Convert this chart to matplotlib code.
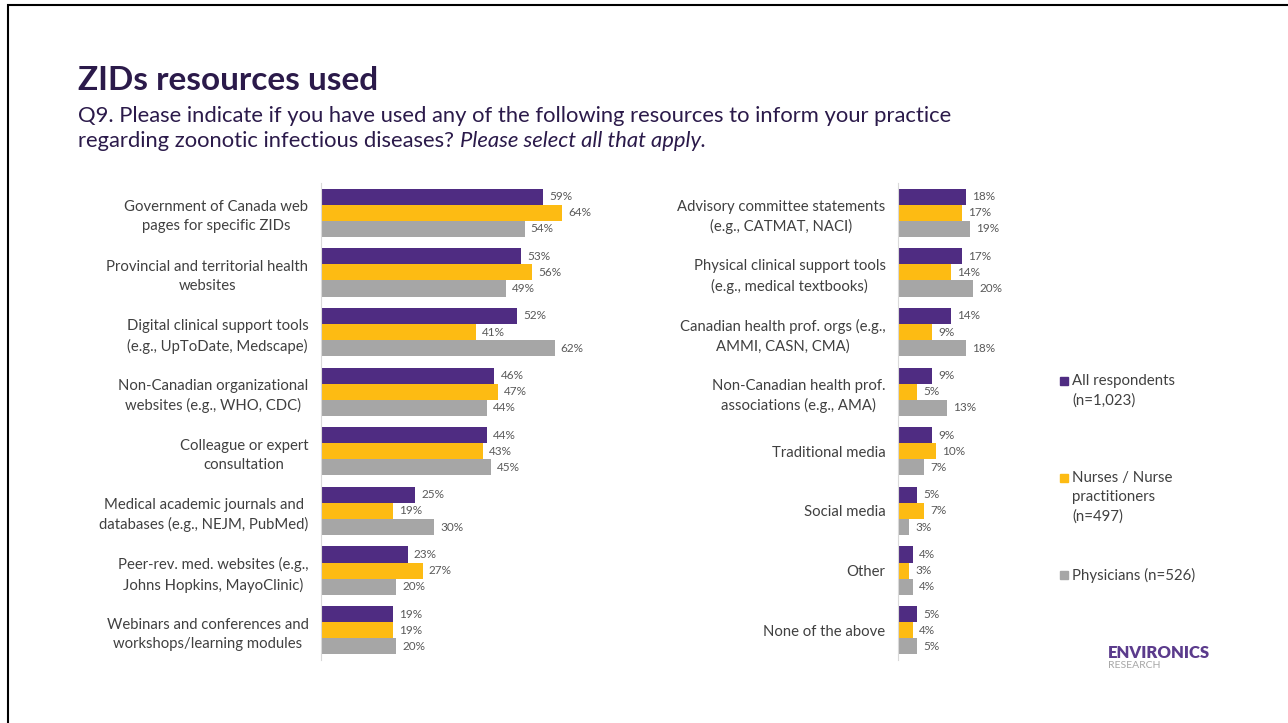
import matplotlib
matplotlib.use("Agg")
import matplotlib.pyplot as plt
import numpy as np
from matplotlib.patches import Rectangle

plt.rcParams['font.family'] = ['Lato', 'DejaVu Sans']

series_names = ["All respondents\n(n=1,023)",
                "Nurses / Nurse\npractitioners\n(n=497)",
                "Physicians (n=526)"]
colors = ["#4F2C82", "#FDBB13", "#A6A6A6"]

left_cats = ["Government of Canada web\npages for specific ZIDs",
             "Provincial and territorial health\nwebsites",
             "Digital clinical support tools\n(e.g., UpToDate, Medscape)",
             "Non-Canadian organizational\nwebsites (e.g., WHO, CDC)",
             "Colleague or expert\nconsultation",
             "Medical academic journals and\ndatabases (e.g., NEJM, PubMed)",
             "Peer-rev. med. websites (e.g.,\nJohns Hopkins, MayoClinic)",
             "Webinars and conferences and\nworkshops/learning modules"]
left_all = [59, 53, 52, 46, 44, 25, 23, 19]
left_nurses = [64, 56, 41, 47, 43, 19, 27, 19]
left_phys = [54, 49, 62, 44, 45, 30, 20, 20]

right_cats = ["Advisory committee statements\n(e.g., CATMAT, NACI)",
              "Physical clinical support tools\n(e.g., medical textbooks)",
              "Canadian health prof. orgs (e.g.,\nAMMI, CASN, CMA)",
              "Non-Canadian health prof.\nassociations (e.g., AMA)",
              "Traditional media",
              "Social media",
              "Other",
              "None of the above"]
right_all = [18, 17, 14, 9, 9, 5, 4, 5]
right_nurses = [17, 14, 9, 5, 10, 7, 3, 4]
right_phys = [19, 20, 18, 13, 7, 3, 4, 5]

W, H = 1288, 723
fig = plt.figure(figsize=(W / 100, H / 100), dpi=100)

# slide frame
fig.add_artist(Rectangle((8 / W, -0.01), 1.1, (H - 5) / H + 0.01,
                         transform=fig.transFigure, fill=False,
                         edgecolor="black", linewidth=1.5))

title_col = "#2B1A4A"
fig.text(78 / W, 1 - 80 / H, "ZIDs resources used", fontsize=24,
         fontweight="bold", color=title_col, va="center", ha="left")
fig.text(78 / W, 1 - 116 / H,
         "Q9. Please indicate if you have used any of the following resources to inform your practice",
         fontsize=15.8, color=title_col, va="center", ha="left")
t1 = fig.text(78 / W, 1 - 141 / H,
              "regarding zoonotic infectious diseases? ",
              fontsize=15.8, color=title_col, va="center", ha="left")
fig.canvas.draw()
bb = t1.get_window_extent()
fig.text(bb.x1 / W, 1 - 141 / H, "Please select all that apply.",
         fontsize=15.8, color=title_col, va="center", ha="left", style="italic")


def panel(x0, cats, vals):
    top, bot = 183, 660
    ax = fig.add_axes([x0 / W, 1 - bot / H, 377 / W, (bot - top) / H])
    n = len(cats)
    y = np.arange(n)
    h = 0.27
    for k, (v, c) in enumerate(zip(vals, colors)):
        pos = y + (k - 1) * h
        ax.barh(pos, v, height=h, color=c, edgecolor="none")
        for p, val in zip(pos, v):
            ax.text(val + 1.6, p, "%d%%" % val, va="center", ha="left",
                    fontsize=8.5, color="#595959")
    ax.set_xlim(0, 100)
    ax.set_ylim(n - 0.5, -0.5)
    ax.set_yticks(y)
    ax.set_yticklabels(cats, fontsize=10.7, color="#404040", ha="right",
                       multialignment="center", linespacing=1.45)
    ax.tick_params(axis="y", length=0, pad=9)
    ax.set_xticks([])
    for s in ["top", "right", "bottom"]:
        ax.spines[s].set_visible(False)
    ax.spines["left"].set_color("#D9D9D9")
    ax.patch.set_alpha(0)
    return ax


panel(321, left_cats, [left_all, left_nurses, left_phys])
panel(898, right_cats, [right_all, right_nurses, right_phys])

# legend
leg_y = [381, 478, 575]
for name, c, yy in zip(series_names, colors, leg_y):
    fig.add_artist(Rectangle((1060 / W, 1 - (yy + 4) / H), 8 / W, 8 / H,
                             transform=fig.transFigure, color=c))
    fig.text(1072 / W, 1 - (yy - 7) / H, name, fontsize=10.8, color="#404040",
             va="top", ha="left", linespacing=1.45)

# logo
fig.text(1108 / W, 1 - 653 / H, "ENVIRONICS", fontsize=12,
         fontweight="heavy", color="#5B3B8C", va="center", ha="left")
fig.text(1108 / W, 1 - 666 / H, "RESEARCH", fontsize=7.5, color="#A6A6A6",
         va="center", ha="left")

fig.savefig("out.png", dpi=100)
